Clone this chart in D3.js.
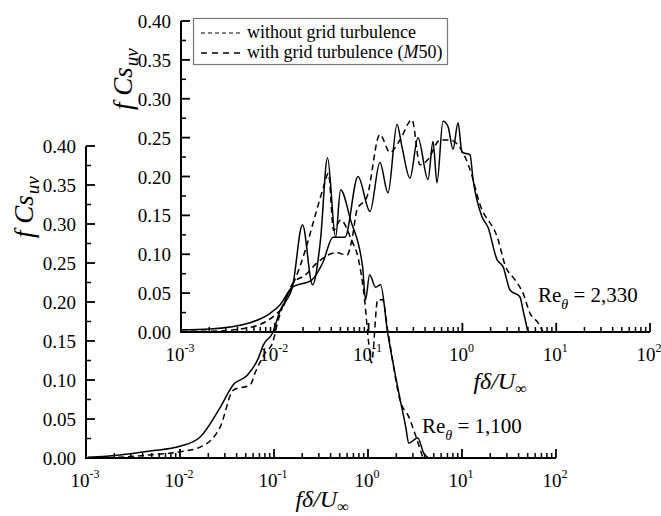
<!DOCTYPE html>
<html>
<head>
<meta charset="utf-8">
<script src="https://cdn.jsdelivr.net/npm/d3@7"></script>
<style>
  html, body { margin: 0; padding: 0; background: #fff; }
</style>
</head>
<body>
<svg id="chart" width="661" height="516"></svg>
<script>
const FONT = "Liberation Serif";

// Tick values shared by both panels
const xTicks = [1e-3, 1e-2, 1e-1, 1e0, 1e1, 1e2];
const xTickExponents = ["-3", "-2", "-1", "0", "1", "2"];
const yTicks = [0, 0.05, 0.10, 0.15, 0.20, 0.25, 0.30, 0.35, 0.40];

// Re_theta = 1,100 : [f delta / U_inf, f Cs_uv]
const re1100Without = [
  [0.00105, 0.001], [0.0023, 0.004], [0.00481, 0.009], [0.010, 0.015], [0.0164, 0.027],
  [0.0268, 0.065], [0.0369, 0.094], [0.052, 0.106], [0.0682, 0.128], [0.0771, 0.145],
  [0.0962, 0.160], [0.117, 0.190], [0.157, 0.219], [0.201, 0.299], [0.257, 0.222],
  [0.312, 0.279], [0.371, 0.385], [0.452, 0.283], [0.511, 0.344], [0.653, 0.305],
  [0.876, 0.245], [0.942, 0.203], [1.04, 0.235], [1.205, 0.219], [1.36, 0.222],
  [1.62, 0.160], [1.97, 0.104], [2.23, 0.071], [2.52, 0.040], [2.71, 0.019],
  [3.38, 0.026], [3.92, 0.006], [4.32, 0.001]
];
const re1100With = [
  [0.00105, 0.000], [0.0023, 0.001], [0.00481, 0.004], [0.010, 0.008], [0.0164, 0.014],
  [0.0268, 0.040], [0.0369, 0.087], [0.056, 0.094], [0.0633, 0.110], [0.081, 0.135],
  [0.0962, 0.147], [0.111, 0.177], [0.132, 0.203], [0.161, 0.224], [0.216, 0.267],
  [0.276, 0.312], [0.336, 0.347], [0.380, 0.365], [0.430, 0.292], [0.511, 0.305],
  [0.669, 0.279], [0.794, 0.254], [0.920, 0.203], [1.01, 0.151], [1.09, 0.122],
  [1.27, 0.203], [1.43, 0.203], [1.62, 0.164], [2.23, 0.071], [2.71, 0.053],
  [3.06, 0.036], [3.82, 0.001]
];

// Re_theta = 2,330
const re2330Without = [
  [0.001, 0.003], [0.00204, 0.004], [0.00545, 0.012], [0.0089, 0.024], [0.0114, 0.035],
  [0.0152, 0.057], [0.0249, 0.067], [0.0327, 0.090], [0.0417, 0.122], [0.056, 0.122],
  [0.0771, 0.200], [0.1035, 0.155], [0.132, 0.218], [0.161, 0.179], [0.201, 0.267],
  [0.227, 0.238], [0.276, 0.198], [0.336, 0.250], [0.430, 0.196], [0.486, 0.245],
  [0.536, 0.192], [0.621, 0.271], [0.703, 0.264], [0.794, 0.235], [0.898, 0.269],
  [0.991, 0.231], [1.205, 0.228], [1.30, 0.196], [1.62, 0.148], [1.87, 0.135],
  [2.34, 0.093], [2.71, 0.084], [3.22, 0.054], [4.11, 0.045], [4.43, 0.028], [5.0, 0.000]
];
const re2330With = [
  [0.001, 0.001], [0.00204, 0.001], [0.00545, 0.006], [0.01054, 0.024], [0.0122, 0.032],
  [0.0156, 0.063], [0.021, 0.073], [0.0289, 0.090], [0.0449, 0.102], [0.0589, 0.099],
  [0.0665, 0.119], [0.0752, 0.157], [0.0962, 0.174], [0.132, 0.254], [0.169, 0.231],
  [0.216, 0.247], [0.290, 0.273], [0.353, 0.215], [0.430, 0.222], [0.577, 0.247],
  [0.738, 0.247], [1.205, 0.209], [1.54, 0.164], [2.40, 0.119], [2.85, 0.086],
  [3.64, 0.067], [4.43, 0.050], [5.26, 0.024], [6.4, 0.012], [7.23, 0.000]
];

const legendLabels = ["without grid turbulence", "with grid turbulence ("];

const svg = d3.select("#chart");

function txt(sel) {
  return sel.attr("font-family", FONT).attr("fill", "#000");
}

function drawPanel(opt) {
  const x = d3.scaleLog().domain([1e-3, 1e2]).range([opt.left, opt.left + opt.width]);
  const y = d3.scaleLinear().domain([0, 0.4]).range([opt.top + opt.height, opt.top]);
  const g = svg.append("g");

  // curves
  const line = d3.line().x(d => x(d[0])).y(d => y(d[1])).curve(d3.curveMonotoneX);
  g.append("path").datum(opt.without).attr("d", line)
    .attr("fill", "none").attr("stroke", "#000").attr("stroke-width", 1.5);
  g.append("path").datum(opt.with).attr("d", line)
    .attr("fill", "none").attr("stroke", "#000").attr("stroke-width", 1.5)
    .attr("stroke-dasharray", "6,4");

  // x axis with inward ticks
  const x0 = y(0);
  g.append("line").attr("x1", x(1e-3)).attr("x2", x(1e2)).attr("y1", x0).attr("y2", x0)
    .attr("stroke", "#000").attr("stroke-width", 2);
  const minor = [];
  for (let e = -3; e < 2; e++) for (let m = 2; m <= 9; m++) minor.push(m * Math.pow(10, e));
  g.selectAll(null).data(minor).enter().append("line")
    .attr("x1", d => x(d)).attr("x2", d => x(d)).attr("y1", x0).attr("y2", x0 - 5)
    .attr("stroke", "#000").attr("stroke-width", 1.5);
  g.selectAll(null).data(xTicks).enter().append("line")
    .attr("x1", d => x(d)).attr("x2", d => x(d)).attr("y1", x0).attr("y2", x0 - 9)
    .attr("stroke", "#000").attr("stroke-width", 1.8);
  const xl = txt(g.selectAll(null).data(xTicks).enter().append("text"))
    .attr("x", d => x(d) - 1).attr("y", x0 + 29).attr("text-anchor", "middle")
    .attr("font-size", 19);
  xl.append("tspan").text("10");
  xl.append("tspan").attr("dy", -9).attr("font-size", 12)
    .text((d, i) => xTickExponents[i]);

  // y axis with inward ticks
  const yx = x(1e-3);
  g.append("line").attr("x1", yx).attr("x2", yx).attr("y1", y(0) + 1).attr("y2", y(0.4))
    .attr("stroke", "#000").attr("stroke-width", 2);
  const yMinor = d3.range(8).map(i => yTicks[i] + 0.025);
  g.selectAll(null).data(yMinor).enter().append("line")
    .attr("x1", yx).attr("x2", yx + 5).attr("y1", d => y(d)).attr("y2", d => y(d))
    .attr("stroke", "#000").attr("stroke-width", 1.5);
  g.selectAll(null).data(yTicks).enter().append("line")
    .attr("x1", yx).attr("x2", yx + 9).attr("y1", d => y(d)).attr("y2", d => y(d))
    .attr("stroke", "#000").attr("stroke-width", 1.8);
  txt(g.selectAll(null).data(yTicks).enter().append("text"))
    .attr("x", yx - 10).attr("y", d => y(d) + 7).attr("text-anchor", "end")
    .attr("font-size", 19).text(d => d.toFixed(2));

  // y title: f Cs_uv
  const yt = txt(g.append("text"))
    .attr("transform", `translate(${opt.yTitle[0]},${opt.yTitle[1]}) rotate(-90)`)
    .attr("font-size", 27).attr("font-style", "italic");
  yt.append("tspan").text("f Cs");
  yt.append("tspan").attr("dx", 1).attr("dy", 6).attr("font-size", 19).text("uv");

  // x title: f delta / U_inf
  const xt = txt(g.append("text")).attr("x", opt.xTitle[0]).attr("y", opt.xTitle[1])
    .attr("text-anchor", "middle").attr("font-size", 24).attr("font-style", "italic");
  xt.append("tspan").text("fδ/U");
  xt.append("tspan").attr("dy", 5).attr("font-size", 16).text("∞");

  // Reynolds number tag
  const rt = txt(g.append("text")).attr("x", opt.reLabel[0]).attr("y", opt.reLabel[1])
    .attr("font-size", 21);
  rt.append("tspan").text("Re");
  rt.append("tspan").attr("dy", 7).attr("font-size", 14).attr("font-style", "italic").text("θ");
  rt.append("tspan").attr("dy", -7).text(" = " + opt.re);
}

// lower panel: Re_theta = 1,100
drawPanel({
  left: 86, top: 146, width: 470, height: 312,
  without: re1100Without, with: re1100With,
  yTitle: [33, 238], xTitle: [322, 507], reLabel: [422, 433], re: "1,100"
});

// upper panel: Re_theta = 2,330
drawPanel({
  left: 181, top: 21, width: 469, height: 311,
  without: re2330Without, with: re2330With,
  yTitle: [132, 110], xTitle: [500, 389], reLabel: [538, 302], re: "2,330"
});

// legend
const lg = svg.append("g");
lg.append("rect").attr("x", 193.5).attr("y", 18.5).attr("width", 254).attr("height", 46)
  .attr("fill", "#fff").attr("stroke", "#777").attr("stroke-width", 1.2);
lg.append("line").attr("x1", 201).attr("x2", 242).attr("y1", 33).attr("y2", 33)
  .attr("stroke", "#000").attr("stroke-width", 1).attr("stroke-dasharray", "4,3");
lg.append("line").attr("x1", 201).attr("x2", 242).attr("y1", 53).attr("y2", 53)
  .attr("stroke", "#000").attr("stroke-width", 1.3).attr("stroke-dasharray", "6,5");
txt(lg.append("text")).attr("x", 247).attr("y", 38).attr("font-size", 18).text(legendLabels[0]);
const l2 = txt(lg.append("text")).attr("x", 247).attr("y", 58).attr("font-size", 18);
l2.append("tspan").text(legendLabels[1]);
l2.append("tspan").attr("font-style", "italic").text("M");
l2.append("tspan").text("50)");
</script>
</body>
</html>
